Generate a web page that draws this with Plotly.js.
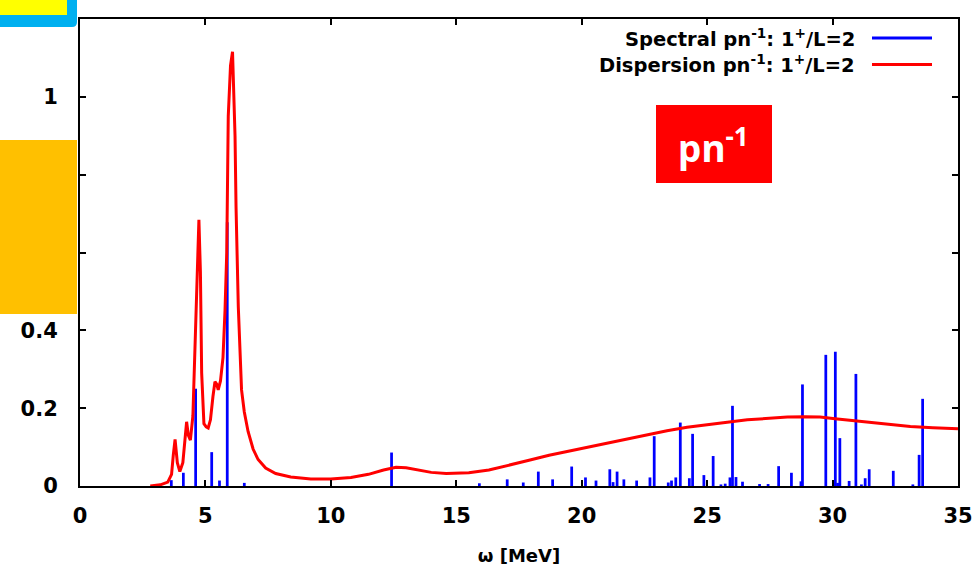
<!DOCTYPE html>
<html>
<head>
<meta charset="utf-8">
<script src="https://cdn.plot.ly/plotly-3.0.1.min.js"></script>
<style>html,body{margin:0;padding:0;background:#fff}#chart{width:974px;height:570px}</style>
</head>
<body>
<div id="chart"></div>
<script>
// Dispersion curve (red)
var dispX = [2.8, 3.2, 3.5, 3.65, 3.72, 3.79, 3.88, 3.98, 4.1, 4.2, 4.25, 4.32, 4.4, 4.5, 4.58, 4.65, 4.74, 4.8, 4.85, 4.94, 5.03, 5.11, 5.2, 5.3, 5.38, 5.45, 5.51, 5.6, 5.7, 5.78, 5.85, 5.91, 6.0, 6.08, 6.14, 6.18, 6.22, 6.31, 6.44, 6.55, 6.7, 6.9, 7.1, 7.4, 7.8, 8.4, 9.2, 10.0, 10.8, 11.5, 12.1, 12.6, 13.0, 13.5, 14.0, 14.6, 15.5, 16.3, 17.1, 17.9, 18.7, 19.5, 20.3, 21.1, 21.9, 22.6, 23.4, 24.2, 25.0, 25.8, 26.6, 27.4, 28.2, 28.9, 29.5, 30.1, 30.8, 31.5, 32.3, 33.1, 34.0, 35.0];
var dispY = [0.0, 0.003, 0.01, 0.03, 0.08, 0.12, 0.06, 0.037, 0.06, 0.14, 0.165, 0.13, 0.118, 0.18, 0.35, 0.547, 0.684, 0.55, 0.29, 0.16, 0.152, 0.149, 0.17, 0.23, 0.268, 0.262, 0.247, 0.27, 0.33, 0.45, 0.6, 0.95, 1.08, 1.116, 1.0, 0.9, 0.718, 0.461, 0.247, 0.19, 0.14, 0.095, 0.068, 0.046, 0.032, 0.023, 0.018, 0.018, 0.022, 0.03, 0.041, 0.048, 0.047, 0.041, 0.035, 0.032, 0.034, 0.041, 0.053, 0.066, 0.079, 0.09, 0.101, 0.112, 0.122, 0.132, 0.142, 0.151, 0.158, 0.164, 0.17, 0.174, 0.177, 0.178, 0.177, 0.173, 0.168, 0.163, 0.157, 0.153, 0.150, 0.147];

// Spectral strengths (blue sticks)
var specX = [3.64, 4.12, 4.61, 5.25, 5.56, 5.87, 6.55, 12.42, 15.92, 17.03, 17.67, 18.27, 18.84, 19.60, 20.15, 20.57, 21.12, 21.25, 21.41, 21.68, 22.19, 22.72, 22.89, 23.45, 23.58, 23.75, 23.93, 24.29, 24.42, 24.87, 25.24, 25.55, 25.72, 25.91, 26.01, 26.15, 26.41, 27.09, 27.43, 27.85, 28.36, 28.74, 28.80, 29.73, 30.11, 30.20, 30.29, 30.66, 30.93, 31.15, 31.30, 31.46, 32.42, 33.20, 33.45, 33.59];
var specY = [0.015, 0.034, 0.25, 0.087, 0.014, 0.678, 0.008, 0.086, 0.007, 0.017, 0.009, 0.037, 0.017, 0.050, 0.022, 0.014, 0.043, 0.010, 0.037, 0.017, 0.014, 0.022, 0.128, 0.009, 0.014, 0.022, 0.163, 0.020, 0.134, 0.028, 0.077, 0.004, 0.006, 0.022, 0.206, 0.023, 0.011, 0.005, 0.005, 0.051, 0.034, 0.012, 0.261, 0.337, 0.345, 0.008, 0.123, 0.013, 0.288, 0.004, 0.020, 0.043, 0.039, 0.004, 0.080, 0.224];

var xTicks = [0, 5, 10, 15, 20, 25, 30, 35];
var yTicks = [0, 0.2, 0.4, 0.6, 0.8, 1, 1.2];
var yTickText = ['0', '0.2', '0.4', '0.6', '0.8', '1', '1.2'];

var legendSpectral = 'Spectral pn<sup>-1</sup>: 1<sup>+</sup>/L=2';
var legendDispersion = 'Dispersion pn<sup>-1</sup>: 1<sup>+</sup>/L=2';
var boxLabel = 'pn<sup>-1</sup>';
var xTitle = 'ω [MeV]';

var W = 974, H = 570, ML = 80, MR = 16, MT = 19, MB = 84;
var PW = W - ML - MR, PH = H - MT - MB;
function px(x) { return (x - ML) / PW; }
function py(y) { return (H - MB - y) / PH; }

var boldFont = {family: 'DejaVu Sans', weight: 'bold', color: '#000'};

var traces = [
  {type: 'bar', x: specX, y: specY, width: 0.11, marker: {color: '#0000FF', line: {width: 0}}, showlegend: false, hoverinfo: 'skip'},
  {type: 'scatter', mode: 'lines', x: dispX, y: dispY, line: {color: '#FF0000', width: 3}, showlegend: false, hoverinfo: 'skip'}
];

var r = 5;
var layout = {
  width: W, height: H,
  margin: {l: ML, r: MR, t: MT, b: MB},
  paper_bgcolor: '#fff', plot_bgcolor: '#fff',
  showlegend: false,
  xaxis: {
    range: [0, 35], tickvals: xTicks, ticktext: xTicks.map(String),
    ticks: 'inside', ticklen: 6, tickwidth: 2, tickcolor: '#000',
    showline: true, linewidth: 2, linecolor: '#000', mirror: 'ticks',
    showgrid: false, zeroline: false,
    tickfont: Object.assign({size: 21}, boldFont),
    ticklabelstandoff: 10,
    title: {text: xTitle, font: Object.assign({size: 18}, boldFont), standoff: 22}
  },
  yaxis: {
    range: [0, 1.2], tickvals: yTicks, ticktext: yTickText,
    ticks: 'inside', ticklen: 6, tickwidth: 2, tickcolor: '#000',
    showline: true, linewidth: 2, linecolor: '#000', mirror: 'ticks',
    showgrid: false, zeroline: false,
    tickfont: Object.assign({size: 21}, boldFont),
    ticklabelstandoff: 16
  },
  shapes: [
    // legend sample lines
    {type: 'line', xref: 'paper', yref: 'paper', x0: px(872), x1: px(932), y0: py(38), y1: py(38), line: {color: '#0000FF', width: 3}},
    {type: 'line', xref: 'paper', yref: 'paper', x0: px(872), x1: px(932), y0: py(64.5), y1: py(64.5), line: {color: '#FF0000', width: 3}},
    // red label box
    {type: 'rect', xref: 'paper', yref: 'paper', x0: px(656), x1: px(772), y0: py(183), y1: py(105), fillcolor: '#FF0000', line: {width: 0}, layer: 'above'},
    // orange overlay
    {type: 'rect', xref: 'paper', yref: 'paper', x0: px(0), x1: px(77), y0: py(314), y1: py(140), fillcolor: '#FFC000', line: {width: 0}, layer: 'above'},
    // blue frame with rounded corner
    {type: 'path', xref: 'paper', yref: 'paper', layer: 'above', fillcolor: '#00B0F0', line: {width: 0},
     path: 'M ' + px(0) + ',' + py(-5) + ' L ' + px(77) + ',' + py(-5) + ' L ' + px(77) + ',' + py(27 - r) +
           ' Q ' + px(77) + ',' + py(27) + ' ' + px(77 - r) + ',' + py(27) + ' L ' + px(0) + ',' + py(27) + ' Z'},
    // yellow box
    {type: 'rect', xref: 'paper', yref: 'paper', x0: px(0), x1: px(67), y0: py(15), y1: py(-5), fillcolor: '#FFFF00', line: {width: 0}, layer: 'above'}
  ],
  annotations: [
    {xref: 'paper', yref: 'paper', x: px(857), y: py(38), xanchor: 'right', yanchor: 'middle', showarrow: false, text: legendSpectral, font: Object.assign({size: 19.5}, boldFont)},
    {xref: 'paper', yref: 'paper', x: px(857), y: py(64.5), xanchor: 'right', yanchor: 'middle', showarrow: false, text: legendDispersion, font: Object.assign({size: 19.5}, boldFont)},
    {xref: 'paper', yref: 'paper', x: px(713), y: py(145), xanchor: 'center', yanchor: 'middle', showarrow: false, text: boxLabel, font: {family: 'Noto Sans', weight: 'bold', size: 37, color: '#FFFFFF'}}
  ]
};

Plotly.newPlot('chart', traces, layout, {displayModeBar: false, staticPlot: true});
</script>
</body>
</html>
